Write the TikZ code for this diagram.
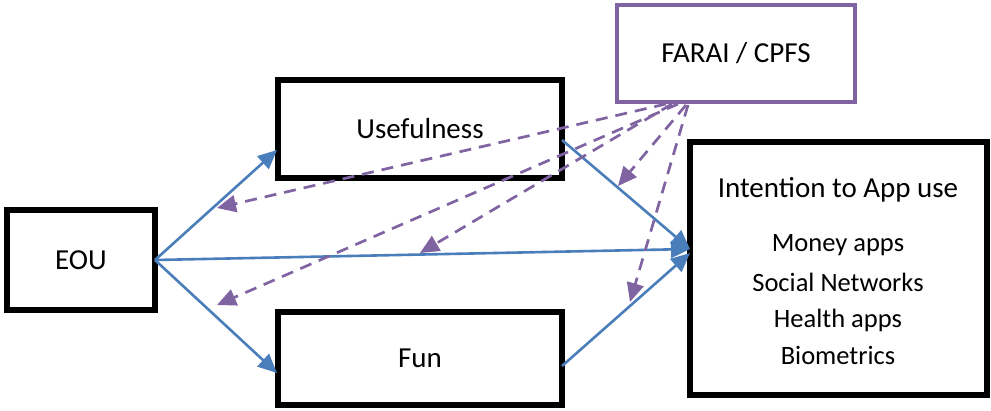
\documentclass[tikz,border=0pt]{standalone}
\usepackage{fontspec}
\setmainfont{Carlito}
\usetikzlibrary{arrows.meta}
\definecolor{linkblue}{HTML}{4A7EBB}
\definecolor{modpurple}{HTML}{8064A2}
\tikzset{
  box/.style={draw=black, line width=5.5pt, fill=white, inner sep=0pt, font=\fontsize{29}{32}\selectfont},
  modbox/.style={draw=modpurple, line width=4.5pt, fill=white, inner sep=0pt, font=\fontsize{29}{32}\selectfont},
  path/.style={draw=linkblue, line width=2.6pt, -{Triangle[length=19pt,width=17pt]}},
  moderate/.style={draw=modpurple, line width=2.7pt, dash pattern=on 12pt off 8pt, -{Triangle[length=19pt,width=17pt]}},
  item/.style={font=\fontsize{26.5}{30}\selectfont, anchor=center}
}
\begin{document}
\begin{tikzpicture}[x=1pt,y=-1pt]
\useasboundingbox (0,0) rectangle (991,410);
% construct boxes
\node[box, minimum width=148pt, minimum height=100pt] (eou) at (81,260) {EOU};
\node[box, minimum width=284pt, minimum height=98pt] (use) at (420,129) {Usefulness};
\node[box, minimum width=284pt, minimum height=93pt] (fun) at (420,358.5) {Fun};
\node[box, minimum width=297pt, minimum height=253pt] (int) at (838.5,268.5) {};
\node[modbox, minimum width=238pt, minimum height=97pt] (farai) at (736,53.5) {FARAI / CPFS};
% outcome labels
\node[font=\fontsize{29}{32}\selectfont] (ttl) at (838,190) {Intention to App use};
\node[item] (i1) at (838,245) {Money apps};
\node[item] (i2) at (838,282) {Social Networks};
\node[item] (i3) at (838,320) {Health apps};
\node[item] (i4) at (838,355) {Biometrics};
% endpoints on the boxes
\coordinate (eR) at (155,260);
\coordinate (uL) at (277,150);
\coordinate (fL) at (277,373);
\coordinate (uR) at (562,140);
\coordinate (fR) at (562,366);
\coordinate (iA) at (690,249);
\coordinate (iB) at (690,253);
% direct paths
\draw[path] (eR) -- (uL);
\draw[path] (eR) -- (fL);
\draw[path] (eR) -- (iA);
\draw[path] (uR) -- (iA);
\draw[path] (fR) -- (iB);
% moderating effects
\coordinate (m1) at (666,104);
\coordinate (m2) at (672,104);
\coordinate (m3) at (678,104);
\coordinate (m4) at (686,105);
\coordinate (m5) at (688,105);
\coordinate (t1) at (217,208);
\coordinate (t2) at (420,253);
\coordinate (t3) at (217,305);
\coordinate (t4) at (618,186);
\coordinate (t5) at (630,302);
\draw[moderate] (m1) -- (t1);
\draw[moderate] (m2) -- (t2);
\draw[moderate] (m3) -- (t3);
\draw[moderate] (m4) -- (t4);
\draw[moderate] (m5) -- (t5);
\end{tikzpicture}
\end{document}
